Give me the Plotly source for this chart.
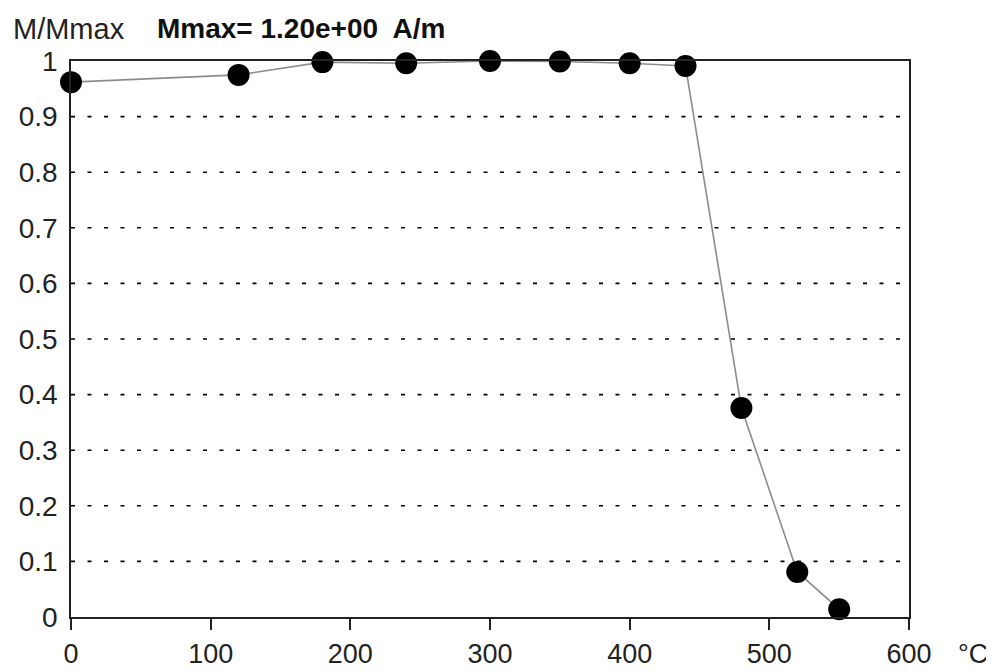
import plotly.graph_objects as go

temps = [0, 120, 180, 240, 300, 350, 400, 440, 480, 520, 550]
m_ratio = [0.962, 0.975, 0.998, 0.996, 1.0, 0.999, 0.996, 0.991, 0.376, 0.081, 0.014]
x_ticks = [0, 100, 200, 300, 400, 500, 600]
y_ticks = [0, 0.1, 0.2, 0.3, 0.4, 0.5, 0.6, 0.7, 0.8, 0.9, 1]
y_tick_text = ["0", "0.1", "0.2", "0.3", "0.4", "0.5", "0.6", "0.7", "0.8", "0.9", "1"]

FONT = "Liberation Sans, Arial, sans-serif"
OFF = 8  # page body margin
W, H = 994 - OFF, 671 - OFF
L, T = 71 - OFF, 61 - OFF
PW, PH = 838, 556
R, B = W - L - PW, H - T - PH

fig = go.Figure()
fig.add_trace(go.Scatter(
    x=temps, y=m_ratio, mode="lines+markers",
    line=dict(color="#8c8c8c", width=1.6),
    marker=dict(color="black", size=22),
    cliponaxis=False, showlegend=False,
))

# dotted horizontal grid lines
for yv in y_ticks[1:-1]:
    fig.add_shape(type="line", xref="x", yref="y", x0=0, x1=600, y0=yv, y1=yv,
                  line=dict(color="black", width=1.6, dash="4px,12.5px"), layer="below")

fig.update_layout(
    width=W, height=H,
    margin=dict(l=L, r=R, t=T, b=B, autoexpand=False),
    paper_bgcolor="white", plot_bgcolor="white",
    font=dict(family=FONT, size=27, color="#222"),
    xaxis=dict(range=[0, 600], tickvals=x_ticks, ticks="outside", ticklen=11,
               tickwidth=1.5, tickcolor="#222", showgrid=False, zeroline=False,
               showline=True, linecolor="#222", linewidth=1.5, mirror=True,
               tickfont=dict(size=27), automargin=False, ticklabelstandoff=1),
    yaxis=dict(range=[0, 1], tickvals=y_ticks, ticktext=y_tick_text, ticks="",
               showgrid=False, zeroline=False, showline=True, linecolor="#222",
               linewidth=1.5, mirror=True, tickfont=dict(size=28), automargin=False,
               ticklabelstandoff=6),
)

def px(xs):
    return (xs - OFF - L) / PW
def py(ys):
    return (H - B - (ys - OFF)) / PH

fig.add_annotation(text="M/Mmax", x=px(11), y=py(29), xref="paper", yref="paper",
                   xanchor="left", yanchor="middle", showarrow=False,
                   font=dict(size=29, family=FONT, color="#222"))
fig.add_annotation(text="<b>Mmax= 1.20e+00  A/m</b>", x=px(155), y=py(29), xref="paper",
                   yref="paper", xanchor="left", yanchor="middle", showarrow=False,
                   font=dict(size=28, family=FONT, color="#111"))
fig.add_annotation(text="°C", x=px(956), y=py(654), xref="paper", yref="paper",
                   xanchor="left", yanchor="middle", showarrow=False,
                   font=dict(size=27, family=FONT, color="#222"))

fig.write_html("out.html")
